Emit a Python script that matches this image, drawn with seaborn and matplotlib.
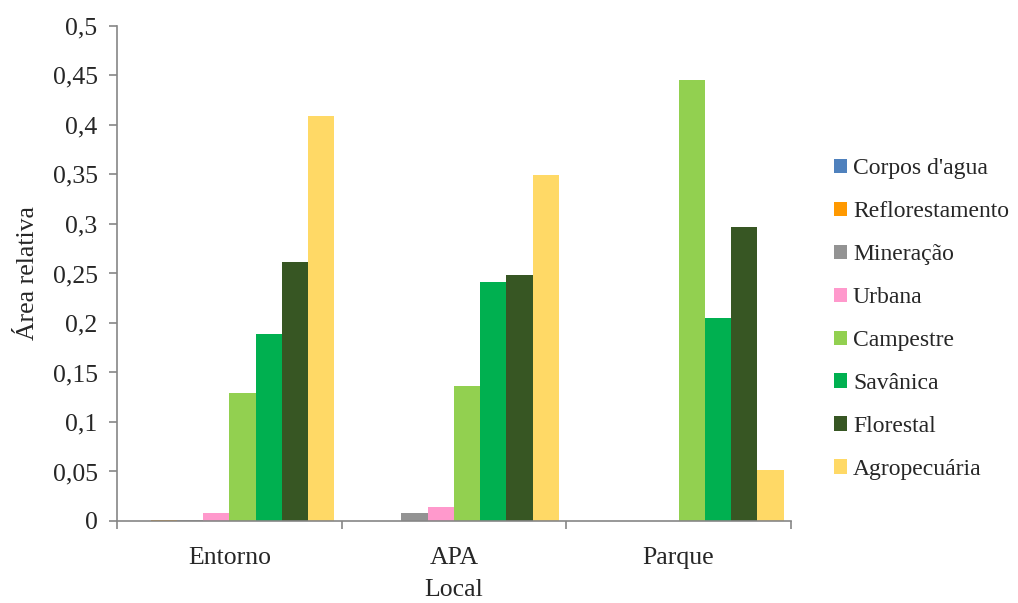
import matplotlib
matplotlib.use("Agg")
import matplotlib.pyplot as plt
from matplotlib.ticker import FixedLocator, FuncFormatter
import seaborn as sns
import pandas as pd

# Land-cover classes and their relative areas per location
locais = ["Entorno", "APA", "Parque"]
classes = ["Corpos d'agua", "Reflorestamento", "Mineração", "Urbana",
           "Campestre", "Savânica", "Florestal", "Agropecuária"]
entorno = [0.0, 0.0015, 0.0005, 0.008, 0.129, 0.189, 0.262, 0.409]
apa = [0.0, 0.0, 0.008, 0.014, 0.136, 0.241, 0.248, 0.349]
parque = [0.0, 0.0, 0.0, 0.0, 0.445, 0.205, 0.297, 0.0515]
cores = ["#4F81BD", "#FF9900", "#939393", "#FF99CC",
         "#92D050", "#00B050", "#375623", "#FFD966"]
yticks = [0, 0.05, 0.1, 0.15, 0.2, 0.25, 0.3, 0.35, 0.4, 0.45, 0.5]

rows = []
for local, vals in zip(locais, [entorno, apa, parque]):
    for classe, v in zip(classes, vals):
        rows.append({"Local": local, "Classe": classe, "Área": v})
df = pd.DataFrame(rows)

sns.set_theme(style="white")
plt.rcParams["font.family"] = ["Liberation Serif", "DejaVu Serif"]

fig = plt.figure(figsize=(10.18, 6.03), dpi=100)
ax = fig.add_axes([0.1149, 0.136, 0.662, 0.821])

sns.barplot(data=df, x="Local", y="Área", hue="Classe", order=locais,
            hue_order=classes, palette=cores, width=0.935, gap=0,
            linewidth=0, saturation=1, ax=ax, legend=True)

ax.set_xlim(-0.5, 2.5)
ax.set_ylim(0, 0.5)
ax.yaxis.set_major_locator(FixedLocator(yticks))
ax.yaxis.set_major_formatter(
    FuncFormatter(lambda v, p: f"{v:g}".replace(".", ",")))

# Category separators on the x axis
ax.xaxis.set_minor_locator(FixedLocator([-0.5, 0.5, 1.5, 2.5]))
ax.tick_params(axis="x", which="major", length=0, labelsize=18.5, pad=19)
ax.tick_params(axis="x", which="minor", length=6, width=1.2,
               color="#868686", direction="out", bottom=True)
ax.tick_params(axis="y", which="major", length=6, width=1.2,
               color="#868686", direction="out", left=True, labelsize=18.5,
               pad=8)

for side in ["top", "right"]:
    ax.spines[side].set_visible(False)
for side in ["left", "bottom"]:
    ax.spines[side].set_color("#868686")
    ax.spines[side].set_linewidth(1.2)

ax.set_xlabel("Local", fontsize=18.5, labelpad=7)
ax.set_ylabel("Área relativa", fontsize=18.5, labelpad=10)

handles, labels = ax.get_legend_handles_labels()
ax.legend(handles, labels, loc="center left", bbox_to_anchor=(1.05, 0.408),
          frameon=False, fontsize=17, handlelength=0.55, handleheight=0.55,
          handletextpad=0.25, labelspacing=0.93, borderaxespad=0)

fig.savefig("out.png", dpi=100)
